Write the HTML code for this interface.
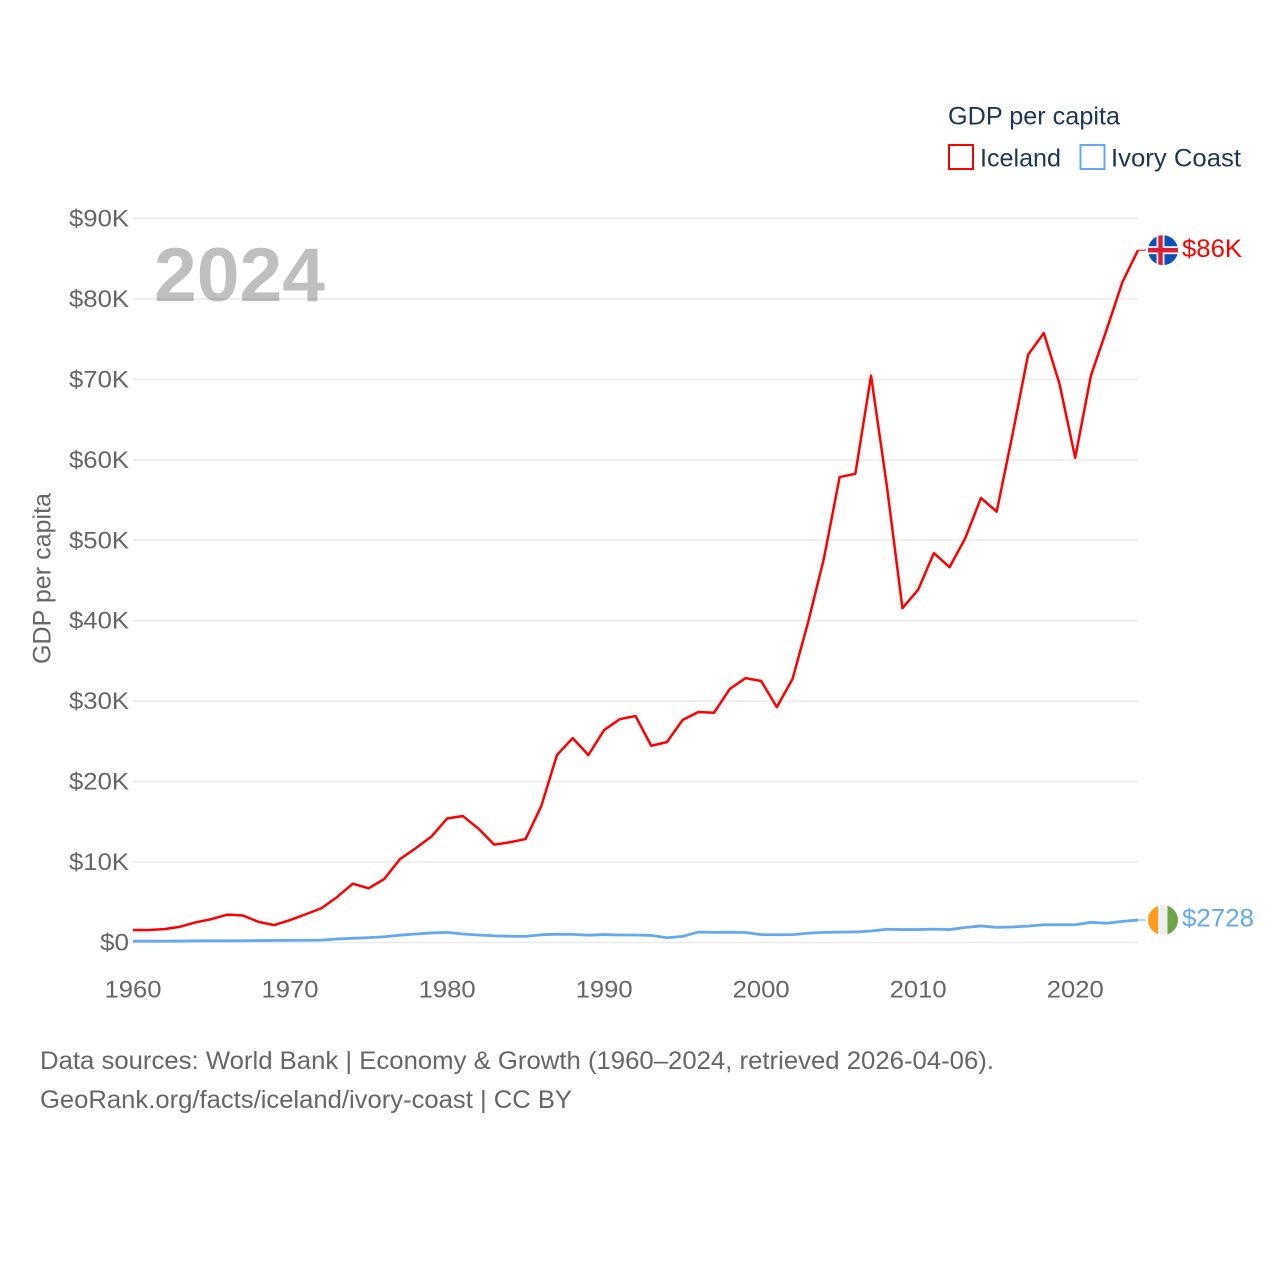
<!DOCTYPE html>
<html lang="en">
<head>
<meta charset="utf-8">
<title>GDP per capita: Iceland and Ivory Coast</title>
<style>
html,body{margin:0;padding:0;background:#fff;width:1280px;height:1280px;overflow:hidden}
svg{display:block}
text{font-family:"Liberation Sans",sans-serif}
.tick{font-size:24px;fill:#666}
.navy{font-size:25px;fill:#1d3557}
.foot{font-size:25px;fill:#666}
</style>
</head>
<body>
<svg id="chart" width="1280" height="1280" viewBox="0 0 1280 1280" xmlns="http://www.w3.org/2000/svg">
  <rect width="1280" height="1280" fill="#fff"/>
  <g id="grid"></g>
  <g id="yticks"></g>
  <g id="xticks"></g>
  <text x="154" y="301" font-size="76" font-weight="bold" fill="#000" fill-opacity="0.25" textLength="171" lengthAdjust="spacingAndGlyphs">2024</text>
  <text transform="translate(50.5,664) rotate(-90)" font-size="25" fill="#666" textLength="171" lengthAdjust="spacingAndGlyphs">GDP per capita</text>
  <g id="series"></g>

  <text class="navy" x="948" y="124.5" textLength="172" lengthAdjust="spacingAndGlyphs">GDP per capita</text>
  <g>
    <rect x="949" y="145" width="24" height="24" fill="none" stroke="#ff0000" stroke-width="2"/>
    <text class="navy" x="980" y="166.5" textLength="81" lengthAdjust="spacingAndGlyphs">Iceland</text>
  </g>
  <g>
    <rect x="1080.5" y="145" width="24" height="24" fill="none" stroke="#64a9ee" stroke-width="2"/>
    <text class="navy" x="1111" y="166.5" textLength="130" lengthAdjust="spacingAndGlyphs">Ivory Coast</text>
  </g>

  <text class="foot" x="40" y="1069" textLength="954" lengthAdjust="spacingAndGlyphs">Data sources: World Bank | Economy &amp; Growth (1960–2024, retrieved 2026-04-06).</text>
  <text class="foot" x="40" y="1108" textLength="532" lengthAdjust="spacingAndGlyphs">GeoRank.org/facts/iceland/ivory-coast | CC BY</text>

  <defs>
    <clipPath id="flag-clip"><circle cx="0" cy="0" r="15"/></clipPath>
  </defs>
  <g id="flag-iceland">
    <g clip-path="url(#flag-clip)">
      <rect x="-15" y="-15" width="30" height="30" fill="#0b52b8"/>
      <rect x="-6.5" y="-15" width="8" height="30" fill="#f0f0f0"/>
      <rect x="-15" y="-4" width="30" height="8" fill="#f0f0f0"/>
      <rect x="-4.7" y="-15" width="4.4" height="30" fill="#dc1e35"/>
      <rect x="-15" y="-2.2" width="30" height="4.4" fill="#dc1e35"/>
    </g>
  </g>
  <g id="flag-ivory">
    <g clip-path="url(#flag-clip)">
      <rect x="-15" y="-15" width="10" height="30" fill="#ff9a1f"/>
      <rect x="-5" y="-15" width="9.5" height="30" fill="#eeeeee"/>
      <rect x="4.5" y="-15" width="10.5" height="30" fill="#6da544"/>
    </g>
  </g>
  <text id="label-iceland" x="1182" font-size="25" fill="#ff0000" textLength="60" lengthAdjust="spacingAndGlyphs"></text>
  <text id="label-ivory" x="1182" font-size="25" fill="#64a9ee" textLength="72" lengthAdjust="spacingAndGlyphs"></text>
</svg>
<script>
const years = [1960,1961,1962,1963,1964,1965,1966,1967,1968,1969,1970,1971,1972,1973,1974,1975,1976,1977,1978,1979,1980,1981,1982,1983,1984,1985,1986,1987,1988,1989,1990,1991,1992,1993,1994,1995,1996,1997,1998,1999,2000,2001,2002,2003,2004,2005,2006,2007,2008,2009,2010,2011,2012,2013,2014,2015,2016,2017,2018,2019,2020,2021,2022,2023,2024];
const icelandValues = [1.55,1.55,1.66,1.96,2.51,2.91,3.46,3.36,2.56,2.16,2.79,3.51,4.26,5.66,7.31,6.73,7.89,10.36,11.71,13.16,15.41,15.73,14.16,12.16,12.46,12.86,16.96,23.31,25.41,23.31,26.41,27.76,28.16,24.46,24.91,27.66,28.66,28.56,31.51,32.86,32.51,29.26,32.76,39.86,47.76,57.86,58.26,70.46,56.86,41.56,43.86,48.41,46.66,50.26,55.26,53.56,63.06,73.06,75.76,69.46,60.26,70.46,76.16,82.06,86.06];
const ivoryCoastValues = [0.16,0.16,0.17,0.18,0.2,0.21,0.21,0.22,0.24,0.25,0.27,0.28,0.3,0.44,0.52,0.61,0.71,0.91,1.06,1.19,1.26,1.06,0.93,0.82,0.78,0.76,0.96,1.03,1.01,0.91,0.99,0.93,0.93,0.88,0.59,0.76,1.3,1.26,1.28,1.24,0.98,0.96,0.98,1.16,1.26,1.29,1.31,1.43,1.64,1.61,1.61,1.66,1.61,1.86,2.06,1.88,1.93,2.04,2.21,2.21,2.21,2.51,2.39,2.63,2.79];
const yTickValues = [0,10,20,30,40,50,60,70,80,90];
const yTickLabels = ["$0","$10K","$20K","$30K","$40K","$50K","$60K","$70K","$80K","$90K"];
const xTickValues = [1960,1970,1980,1990,2000,2010,2020];
const endLabels = ["$86K","$2728"];

const NS = 'http://www.w3.org/2000/svg';
const X0 = 133, X1 = 1138, Y0 = 942.5, Y1 = 218.5;
function xScale(year) { return X0 + (year - 1960) * (X1 - X0) / (2024 - 1960); }
function yScale(v) { return Y0 - v * (Y0 - Y1) / 90; }

const grid = document.getElementById('grid');
const yticks = document.getElementById('yticks');
yTickValues.forEach(function (v, i) {
  const line = document.createElementNS(NS, 'line');
  
  
  line.setAttribute('x1', X0);
  line.setAttribute('x2', X1);
  line.setAttribute('y1', yScale(v));
  line.setAttribute('y2', yScale(v));
  line.setAttribute('stroke', '#eaeaea');
  line.setAttribute('stroke-width', '1.5');
  grid.appendChild(line);

  const t = document.createElementNS(NS, 'text');
  
  
  t.setAttribute('class', 'tick');
  t.setAttribute('x', 129);
  t.setAttribute('y', yScale(v) + 8);
  t.setAttribute('text-anchor', 'end');
  t.setAttribute('textLength', v === 0 ? 29 : 60);
  t.setAttribute('lengthAdjust', 'spacingAndGlyphs');
  t.textContent = yTickLabels[i];
  yticks.appendChild(t);
});

const xticks = document.getElementById('xticks');
xTickValues.forEach(function (year) {
  const t = document.createElementNS(NS, 'text');
  
  
  t.setAttribute('class', 'tick');
  t.setAttribute('x', xScale(year));
  t.setAttribute('y', 997.5);
  t.setAttribute('text-anchor', 'middle');
  t.setAttribute('textLength', 57);
  t.setAttribute('lengthAdjust', 'spacingAndGlyphs');
  t.textContent = String(year);
  xticks.appendChild(t);
});

function pathFor(values) {
  return values.map(function (v, i) {
    return (i ? 'L' : 'M') + xScale(years[i]).toFixed(2) + ' ' + yScale(v).toFixed(2);
  }).join(' ');
}

const series = document.getElementById('series');

const icelandLine = document.createElementNS(NS, 'path');


icelandLine.setAttribute('d', pathFor(icelandValues));
icelandLine.setAttribute('fill', 'none');
icelandLine.setAttribute('stroke', '#ff0000');
icelandLine.setAttribute('stroke-width', '2.5');
icelandLine.setAttribute('stroke-linejoin', 'round');
series.appendChild(icelandLine);

const ivoryLine = document.createElementNS(NS, 'path');


ivoryLine.setAttribute('d', pathFor(ivoryCoastValues));
ivoryLine.setAttribute('fill', 'none');
ivoryLine.setAttribute('stroke', '#64a9ee');
ivoryLine.setAttribute('stroke-width', '2.8');
ivoryLine.setAttribute('stroke-linejoin', 'round');
series.appendChild(ivoryLine);

const lastIce = yScale(icelandValues[icelandValues.length - 1]);
const lastIvory = yScale(ivoryCoastValues[ivoryCoastValues.length - 1]);

const iceConnector = document.createElementNS(NS, 'line');


iceConnector.setAttribute('x1', X1);
iceConnector.setAttribute('x2', X1 + 8);
iceConnector.setAttribute('y1', lastIce);
iceConnector.setAttribute('y2', lastIce);
iceConnector.setAttribute('stroke', '#ff0000');
iceConnector.setAttribute('stroke-width', '1');
series.appendChild(iceConnector);

const ivoryConnector = document.createElementNS(NS, 'line');


ivoryConnector.setAttribute('x1', X1);
ivoryConnector.setAttribute('x2', X1 + 8);
ivoryConnector.setAttribute('y1', lastIvory);
ivoryConnector.setAttribute('y2', lastIvory);
ivoryConnector.setAttribute('stroke', '#64a9ee');
ivoryConnector.setAttribute('stroke-width', '1');
series.appendChild(ivoryConnector);

document.getElementById('flag-iceland').setAttribute('transform', 'translate(1163,' + lastIce + ')');
document.getElementById('flag-ivory').setAttribute('transform', 'translate(1163,' + lastIvory + ')');
const labelIce = document.getElementById('label-iceland');
labelIce.setAttribute('y', lastIce + 7);
labelIce.textContent = endLabels[0];
const labelIvory = document.getElementById('label-ivory');
labelIvory.setAttribute('y', lastIvory + 6.5);
labelIvory.textContent = endLabels[1];
</script>
</body>
</html>
